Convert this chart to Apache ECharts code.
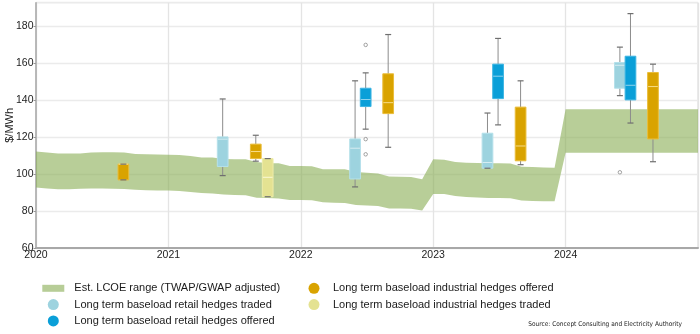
<!DOCTYPE html>
<html>
<head>
<meta charset="utf-8">
<script src="https://cdn.jsdelivr.net/npm/echarts@6/dist/echarts.min.js"></script>
<style>
  html, body { margin: 0; padding: 0; background: #ffffff; }
  #chart { width: 700px; height: 334px; }
</style>
</head>
<body>
<div id="chart"></div>
<script>
// Year ticks on the time axis
const yearTicks = [2020, 2021, 2022, 2023, 2024, 2025];

// Estimated LCOE range ($/MWh), one value per month from Jan 2020 to Jan 2025
const lcoeHigh = [
  112.1, 111.6, 111.0, 111.0, 111.1, 111.6, 111.7, 111.7, 111.6, 110.8, 110.6, 110.5,
  110.4, 110.3, 109.7, 108.9, 108.9, 108.1, 108.0, 107.9, 106.5, 105.8, 105.8, 104.3,
  104.3, 104.1, 102.5, 102.5, 102.5, 101.1, 100.7, 100.3, 98.6, 98.5, 98.4, 97.1,
  107.9, 107.7, 106.5, 106.1, 105.9, 105.8, 105.8, 105.7, 103.9, 103.8, 103.5, 103.4,
  135.0, 135.0, 135.0, 135.0, 135.0, 135.0, 135.0, 135.0, 135.0, 135.0, 135.0, 135.0,
  135.0
];
const lcoeLow = [
  92.7, 92.2, 91.7, 91.8, 92.0, 92.1, 92.1, 92.0, 91.9, 91.5, 91.2, 91.1,
  91.0, 90.8, 90.3, 89.7, 89.5, 88.9, 88.6, 88.5, 87.2, 87.0, 86.8, 85.9,
  85.9, 85.8, 84.7, 84.5, 84.3, 83.2, 83.0, 82.7, 81.4, 81.4, 81.2, 80.2,
  89.2, 89.2, 88.1, 87.6, 87.3, 87.0, 87.0, 86.9, 85.6, 85.4, 85.3, 85.2,
  111.5, 111.5, 111.5, 111.5, 111.5, 111.5, 111.5, 111.5, 111.5, 111.5, 111.5, 111.5,
  111.5
];

// Hedge price boxes: [time, lower whisker, Q1, median, Q3, upper whisker]
const retailTraded = [
  [2021.41, 99.1, 104.0, 118.8, 120.0, 140.5],
  [2022.41, 93.0, 97.3, 113.9, 118.9, 150.3],
  [2023.41, 103.1, 103.1, 106.2, 122.0, 132.9],
  [2024.41, 142.3, 146.3, 158.7, 160.2, 168.5]
];
const retailOffered = [
  [2022.49, 124.2, 136.4, 140.2, 146.3, 154.6],
  [2023.49, 126.5, 140.7, 152.8, 159.3, 173.2],
  [2024.49, 127.5, 140.0, 147.9, 163.6, 186.6]
];
const industrialOffered = [
  [2020.66, 96.8, 96.8, 105.3, 105.3, 105.3],
  [2021.66, 106.9, 108.3, 112.1, 116.1, 120.9],
  [2022.66, 114.4, 132.6, 138.5, 154.1, 175.3],
  [2023.66, 105.0, 107.1, 115.1, 136.1, 150.3],
  [2024.66, 106.6, 118.9, 147.2, 154.8, 159.3]
];
const industrialTraded = [
  [2021.75, 87.7, 87.7, 98.2, 108.3, 108.3]
];
// Outlying quotes: [time, price]
const outliers = [
  [2022.49, 169.7],
  [2022.49, 118.8],
  [2022.49, 110.6],
  [2024.41, 100.9]
];

const NAMES = {
  lcoe: 'Est. LCOE range (TWAP/GWAP adjusted)',
  retailTraded: 'Long term baseload retail hedges traded',
  retailOffered: 'Long term baseload retail hedges offered',
  industrialOffered: 'Long term baseload industrial hedges offered',
  industrialTraded: 'Long term baseload industrial hedges traded'
};
const COLORS = {
  lcoe: '#b7cd97',
  retailTraded: '#9dd3df',
  retailOffered: '#0a9fd8',
  industrialOffered: '#d9a300',
  industrialTraded: '#e4e292'
};

const FONT = "'Liberation Sans', Arial, Helvetica, sans-serif";
const BOX_WIDTH = 0.081; // in years

// Band rows at month starts: [time, low, high]
const bandRows = lcoeLow.map((lo, i) => [2020 + i / 12, lo, lcoeHigh[i]]);

// The whole band is drawn as one polygon when the first row is rendered
function bandRenderer(params, api) {
  if (params.dataIndex !== 0) return null;
  const upper = bandRows.map(r => api.coord([r[0], r[2]]));
  const lower = bandRows.map(r => api.coord([r[0], r[1]])).reverse();
  return {
    type: 'polygon',
    shape: { points: upper.concat(lower) },
    style: { fill: 'rgba(137,173,83,0.6)' }
  };
}

function boxRenderer(fill, stroke, medianColor) {
  return function (params, api) {
    const x = api.value(0);
    const pLow = api.coord([x, api.value(1)]);
    const pQ1 = api.coord([x, api.value(2)]);
    const pMed = api.coord([x, api.value(3)]);
    const pQ3 = api.coord([x, api.value(4)]);
    const pHigh = api.coord([x, api.value(5)]);
    const w = api.size([BOX_WIDTH, 0])[0];
    const cx = pLow[0];
    const cap = 3;
    const whisker = { stroke: '#8c8c8c', lineWidth: 1 };
    const capStyle = { stroke: '#6f6f6f', lineWidth: 1.2 };
    return {
      type: 'group',
      children: [
        { type: 'line', shape: { x1: cx, y1: pHigh[1], x2: cx, y2: pQ3[1] }, style: whisker },
        { type: 'line', shape: { x1: cx, y1: pQ1[1], x2: cx, y2: pLow[1] }, style: whisker },
        { type: 'rect', shape: { x: cx - w / 2, y: pQ3[1], width: w, height: Math.max(pQ1[1] - pQ3[1], 0.5) },
          style: { fill: fill, stroke: stroke, lineWidth: 1 } },
        { type: 'line', shape: { x1: cx - w / 2 + 0.5, y1: pMed[1], x2: cx + w / 2 - 0.5, y2: pMed[1] },
          style: { stroke: medianColor, lineWidth: 1 } },
        { type: 'line', shape: { x1: cx - cap, y1: pHigh[1], x2: cx + cap, y2: pHigh[1] }, style: capStyle },
        { type: 'line', shape: { x1: cx - cap, y1: pLow[1], x2: cx + cap, y2: pLow[1] }, style: capStyle }
      ]
    };
  };
}

function boxSeries(key, data, stroke, median) {
  return {
    name: NAMES[key],
    type: 'custom',
    data: data,
    encode: { x: 0, y: [1, 2, 3, 4, 5] },
    itemStyle: { color: COLORS[key] },
    renderItem: boxRenderer(COLORS[key], stroke, median),
    z: 5,
    silent: true
  };
}

const chart = echarts.init(document.getElementById('chart'), null, { renderer: 'canvas' });

const legendText = { fontFamily: FONT, fontSize: 11, color: '#1a1a1a', lineHeight: 11 };

chart.setOption({
  animation: false,
  backgroundColor: '#ffffff',
  grid: {
    left: 36, right: 2, top: 2.7, bottom: 86,
    containLabel: false, outerBoundsMode: 'none',
    show: true, borderColor: '#d6d6d6', borderWidth: 1, backgroundColor: 'transparent'
  },
  xAxis: {
    type: 'value',
    min: yearTicks[0],
    max: yearTicks[yearTicks.length - 1],
    interval: 1,
    axisLine: { show: true, onZero: false, lineStyle: { color: '#a8a8a8', width: 2 } },
    axisTick: { show: false },
    axisLabel: {
      showMaxLabel: false, margin: 2,
      fontFamily: FONT, fontSize: 10.5, color: '#222',
      formatter: v => String(v)
    },
    splitLine: { show: true, lineStyle: { color: '#e4e4e4', width: 1.3 } }
  },
  yAxis: {
    type: 'value',
    min: 60, max: 192.5, interval: 20,
    name: '$/MWh',
    nameLocation: 'middle',
    nameGap: 21,
    nameMoveOverlap: false,
    nameTextStyle: { fontFamily: FONT, fontSize: 11, color: '#222' },
    axisLine: { show: true, onZero: false, lineStyle: { color: '#a8a8a8', width: 1.5 } },
    axisTick: { show: true, length: 2.5, lineStyle: { color: '#999' } },
    axisLabel: { showMaxLabel: false, margin: 2.5, fontFamily: FONT, fontSize: 10.5, color: '#222' },
    splitLine: { show: true, lineStyle: { color: '#ebebeb', width: 1.3 } }
  },
  legend: [
    {
      orient: 'vertical', left: 42.3, top: 282.8, padding: 0,
      itemWidth: 22, itemHeight: 11, itemGap: 5.3,
      textStyle: Object.assign({ padding: [0, 0, 0, 5] }, legendText),
      selectedMode: false,
      data: [
        { name: NAMES.lcoe, icon: 'path://M0,0H22V7H0Z', itemStyle: { color: COLORS.lcoe } },
        { name: NAMES.retailTraded, icon: 'circle', itemStyle: { color: COLORS.retailTraded } },
        { name: NAMES.retailOffered, icon: 'circle', itemStyle: { color: COLORS.retailOffered } }
      ]
    },
    {
      orient: 'vertical', left: 308.5, top: 282.8, padding: 0,
      itemWidth: 22, itemHeight: 11, itemGap: 5.3,
      textStyle: Object.assign({ padding: [0, 0, 0, 3] }, legendText),
      selectedMode: false,
      data: [
        { name: NAMES.industrialOffered, icon: 'circle', itemStyle: { color: COLORS.industrialOffered } },
        { name: NAMES.industrialTraded, icon: 'circle', itemStyle: { color: COLORS.industrialTraded } }
      ]
    }
  ],
  graphic: [
    {
      type: 'text', right: 18, top: 320.5,
      style: {
        text: 'Source: Concept Consulting and Electricity Authority',
        fontFamily: "'Liberation Sans Narrow', 'DejaVu Sans Condensed', sans-serif",
        fontSize: 6.5, fill: '#222'
      }
    }
  ],
  series: [
    {
      name: NAMES.lcoe, type: 'custom', data: bandRows,
      encode: { x: 0, y: [1, 2] },
      itemStyle: { color: COLORS.lcoe },
      renderItem: bandRenderer,
      silent: true, z: 1
    },
    boxSeries('retailTraded', retailTraded, '#b5e0ea', 'rgba(255,255,255,0.6)'),
    boxSeries('retailOffered', retailOffered, '#3db5e3', 'rgba(255,255,255,0.55)'),
    boxSeries('industrialOffered', industrialOffered, '#eabd3a', 'rgba(255,235,170,0.8)'),
    boxSeries('industrialTraded', industrialTraded, '#eeeca8', 'rgba(255,255,230,0.8)'),
    {
      name: 'outliers', type: 'scatter', data: outliers,
      symbol: 'circle', symbolSize: 3.5,
      itemStyle: { color: '#ffffff', borderColor: '#8c8c8c', borderWidth: 1 },
      silent: true, z: 6
    }
  ]
});
</script>
</body>
</html>
